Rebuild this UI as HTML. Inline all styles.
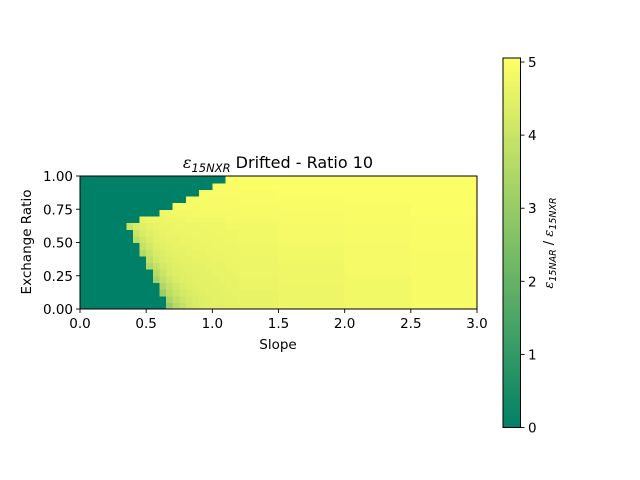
<!DOCTYPE html>
<html><head><meta charset="utf-8"><style>
html,body{margin:0;padding:0;background:#fff;}
svg{display:block;font-family:"DejaVu Sans","Liberation Sans",sans-serif;}
</style></head><body>
<svg id="chart" width="640" height="480" viewBox="0 0 640 480" xmlns="http://www.w3.org/2000/svg">
<defs>
<linearGradient id="cbgrad" x1="0" y1="1" x2="0" y2="0">
<stop offset="0" stop-color="rgb(0,128,102)"/>
<stop offset="1" stop-color="rgb(255,255,102)"/>
</linearGradient>
</defs>
<g id="cells" shape-rendering="crispEdges"></g>
<rect x="80" y="176" width="397" height="133" fill="none" stroke="#000" stroke-width="1"/>
<g id="axes"></g>
<text x="278" y="168" text-anchor="middle" font-size="16"><tspan font-style="italic" font-family="DejaVu Serif, serif">ε</tspan><tspan font-style="italic" font-size="11.5" dy="4">15NXR</tspan><tspan dy="-4"> Drifted - Ratio 10</tspan></text>
<text x="278" y="349" text-anchor="middle" font-size="13.5">Slope</text>
<text transform="translate(31,242) rotate(-90)" text-anchor="middle" font-size="13.5">Exchange Ratio</text>
<rect x="503" y="58" width="17.5" height="369.5" fill="url(#cbgrad)" stroke="#000" stroke-width="1"/>
<g id="cbticks"></g>
<text transform="translate(553,243) rotate(-90)" text-anchor="middle" font-size="13"><tspan font-style="italic" font-family="DejaVu Serif, serif">ε</tspan><tspan font-style="italic" font-size="9.5" dy="3">15NAR</tspan><tspan dy="-3"> / </tspan><tspan font-style="italic" font-family="DejaVu Serif, serif">ε</tspan><tspan font-style="italic" font-size="9.5" dy="3">15NXR</tspan></text>
</svg>
<script>
// Slope cell edges (x) and exchange ratio cell edges (y)
const slopeEdges = [0,0.05,0.1,0.15,0.2,0.25,0.3,0.35,0.4,0.45,0.5,0.55,0.6,0.65,0.7,0.75,0.8,0.85,0.9,0.95,1.0,1.05,1.1,1.15,1.2,1.5,2.0,2.5,3.0];
const ratioEdges = [0,0.05,0.1,0.15,0.2,0.25,0.3,0.35,0.4,0.45,0.5,0.55,0.6,0.65,0.7,0.75,0.8,0.85,0.9,0.95,1.0];
const xTicks = [0,0.5,1,1.5,2,2.5,3];
const xTickLabels = ["0.0","0.5","1.0","1.5","2.0","2.5","3.0"];
const yTicks = [0,0.25,0.5,0.75,1];
const yTickLabels = ["0.00","0.25","0.50","0.75","1.00"];
const cbTicks = [0,1,2,3,4,5];
const cbTickLabels = ["0","1","2","3","4","5"];
// values[row][col], row 0 = bottom
const values = [
[0,0,0,0,0,0,0,0,0,0,0,0,0,3.0,3.6,3.9,4.2,4.3,4.4,4.45,4.5,4.5,4.55,4.55,4.6,4.7,4.8,4.9],
[0,0,0,0,0,0,0,0,0,0,0,0,0,3.4,3.8,4.05,4.2,4.3,4.4,4.45,4.5,4.5,4.55,4.55,4.6,4.7,4.8,4.9],
[0,0,0,0,0,0,0,0,0,0,0,0,3.1,3.7,4.0,4.2,4.3,4.4,4.45,4.5,4.5,4.55,4.55,4.6,4.6,4.7,4.8,4.9],
[0,0,0,0,0,0,0,0,0,0,0,0,3.5,3.9,4.15,4.3,4.4,4.45,4.5,4.5,4.55,4.55,4.6,4.6,4.65,4.7,4.8,4.9],
[0,0,0,0,0,0,0,0,0,0,0,3.3,3.8,4.1,4.3,4.4,4.45,4.5,4.5,4.55,4.55,4.6,4.6,4.6,4.65,4.75,4.8,4.9],
[0,0,0,0,0,0,0,0,0,0,0,3.6,4.0,4.25,4.4,4.45,4.5,4.5,4.55,4.55,4.6,4.6,4.6,4.65,4.7,4.75,4.85,4.9],
[0,0,0,0,0,0,0,0,0,0,3.5,3.9,4.2,4.35,4.45,4.5,4.5,4.55,4.55,4.6,4.6,4.6,4.65,4.65,4.7,4.75,4.85,4.9],
[0,0,0,0,0,0,0,0,0,0,3.8,4.15,4.35,4.45,4.5,4.55,4.55,4.6,4.6,4.6,4.65,4.65,4.65,4.7,4.7,4.8,4.85,4.9],
[0,0,0,0,0,0,0,0,0,3.6,4.0,4.3,4.4,4.5,4.55,4.55,4.6,4.6,4.6,4.65,4.65,4.65,4.7,4.7,4.75,4.8,4.85,4.9],
[0,0,0,0,0,0,0,0,0,3.9,4.2,4.4,4.5,4.55,4.6,4.6,4.6,4.65,4.65,4.65,4.7,4.7,4.7,4.7,4.75,4.8,4.85,4.95],
[0,0,0,0,0,0,0,0,3.75,4.1,4.35,4.5,4.55,4.6,4.6,4.65,4.65,4.65,4.7,4.7,4.7,4.7,4.75,4.75,4.8,4.85,4.9,4.95],
[0,0,0,0,0,0,0,0,4.0,4.3,4.45,4.55,4.6,4.65,4.65,4.65,4.7,4.7,4.7,4.7,4.75,4.75,4.75,4.75,4.8,4.85,4.9,4.95],
[0,0,0,0,0,0,0,3.95,4.25,4.45,4.55,4.6,4.65,4.65,4.7,4.7,4.7,4.7,4.75,4.75,4.75,4.75,4.8,4.8,4.8,4.85,4.9,4.95],
[0,0,0,0,0,0,0,0,0,4.6,4.65,4.7,4.7,4.75,4.75,4.75,4.8,4.8,4.8,4.8,4.8,4.8,4.85,4.85,4.85,4.9,4.95,4.95],
[0,0,0,0,0,0,0,0,0,0,0,0,4.75,4.8,4.8,4.8,4.8,4.85,4.85,4.85,4.85,4.85,4.85,4.85,4.9,4.9,4.95,5.0],
[0,0,0,0,0,0,0,0,0,0,0,0,0,0,4.85,4.85,4.85,4.85,4.9,4.9,4.9,4.9,4.9,4.9,4.9,4.95,4.95,5.0],
[0,0,0,0,0,0,0,0,0,0,0,0,0,0,0,0,4.9,4.9,4.9,4.9,4.9,4.9,4.9,4.9,4.95,4.95,5.0,5.0],
[0,0,0,0,0,0,0,0,0,0,0,0,0,0,0,0,0,0,4.95,4.95,4.95,4.95,4.95,4.95,4.95,5.0,5.0,5.0],
[0,0,0,0,0,0,0,0,0,0,0,0,0,0,0,0,0,0,0,0,4.95,4.95,4.95,4.95,5.0,5.0,5.0,5.0],
[0,0,0,0,0,0,0,0,0,0,0,0,0,0,0,0,0,0,0,0,0,0,5.0,5.0,5.0,5.0,5.0,5.0]
];
const NS = "http://www.w3.org/2000/svg";
const X0 = 80, X1 = 477, Y0 = 309, Y1 = 176;
const VMAX = 5.055;
function xScale(v){ return X0 + (v - 0) / 3 * (X1 - X0); }
function yScale(v){ return Y0 - (v - 0) / 1 * (Y0 - Y1); }
function cbScale(v){ return 427.5 - v / VMAX * 369.5; }
function color(v){
  const t = Math.max(0, Math.min(1, v / VMAX));
  return "rgb(" + Math.round(255*t) + "," + Math.round(128 + 127*t) + ",102)";
}
const cells = document.getElementById("cells");
for (let r = 0; r < values.length; r++) {
  for (let c = 0; c < values[r].length; c++) {
    const x = xScale(slopeEdges[c]), x2 = xScale(slopeEdges[c+1]);
    const y = yScale(ratioEdges[r+1]), y2 = yScale(ratioEdges[r]);
    const rect = document.createElementNS(NS, "rect");
    rect.setAttribute("x", x);
    rect.setAttribute("y", y);
    rect.setAttribute("width", x2 - x + 0.6);
    rect.setAttribute("height", y2 - y + 0.6);
    rect.setAttribute("fill", color(values[r][c]));
    
    
    cells.appendChild(rect);
  }
}
const axes = document.getElementById("axes");
function addLine(g, x1, y1, x2, y2){
  const l = document.createElementNS(NS, "line");
  l.setAttribute("x1", x1); l.setAttribute("y1", y1);
  l.setAttribute("x2", x2); l.setAttribute("y2", y2);
  l.setAttribute("stroke", "#000"); l.setAttribute("stroke-width", "0.9");
  g.appendChild(l);
  return l;
}
function addText(g, x, y, s, anchor){
  const t = document.createElementNS(NS, "text");
  t.setAttribute("x", x); t.setAttribute("y", y);
  t.setAttribute("font-size", "13.5");
  t.setAttribute("text-anchor", anchor);
  t.textContent = s;
  g.appendChild(t);
  return t;
}
xTicks.forEach((v, i) => {
  const x = xScale(v);
  const l = addLine(axes, x, Y0, x, Y0 + 4);
  
  
  const t = addText(axes, x, Y0 + 19, xTickLabels[i], "middle");
  
  
});
yTicks.forEach((v, i) => {
  const y = yScale(v);
  const l = addLine(axes, X0 - 4, y, X0, y);
  
  
  const t = addText(axes, X0 - 7, y + 5, yTickLabels[i], "end");
  
  
});
const cbg = document.getElementById("cbticks");
cbTicks.forEach((v, i) => {
  const y = cbScale(v);
  const l = addLine(cbg, 520.5, y, 524.5, y);
  
  
  const t = addText(cbg, 528, y + 5, cbTickLabels[i], "start");
  
  
});
</script>
</body></html>
